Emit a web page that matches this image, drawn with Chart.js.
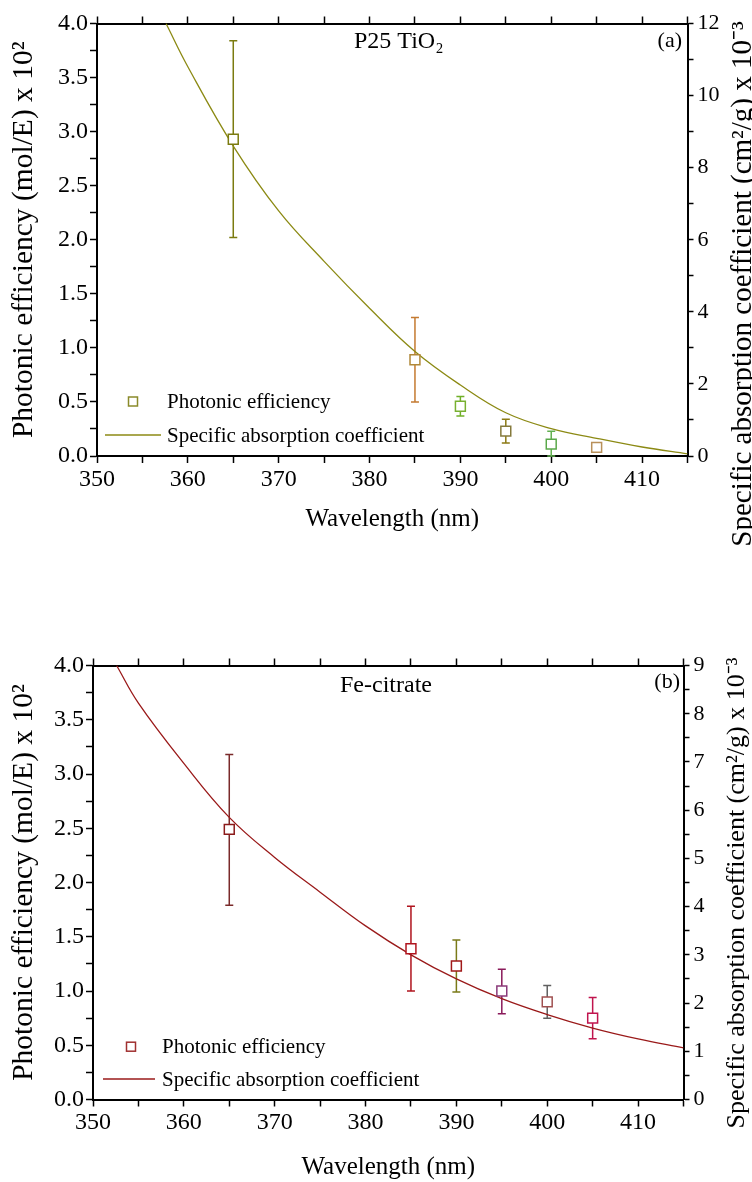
<!DOCTYPE html>
<html>
<head>
<meta charset="utf-8">
<script src="https://cdn.jsdelivr.net/npm/chart.js@4"></script>
<style>
  body { margin: 0; background: #fff; }
  canvas { position: absolute; left: 0; }
  #chartA { top: 0; }
  #chartB { top: 600px; }
</style>
</head>
<body>
<canvas id="chartA" width="752" height="560"></canvas>
<canvas id="chartB" width="752" height="582"></canvas>
<script>
// measured wavelengths (nm)
const wavelengths = [365, 385, 390, 395, 400, 405];

// (a) P25 TiO2: photonic efficiency x 10^2 with error bar ends
const effTiO2 = [2.93, 0.89, 0.46, 0.23, 0.11, 0.08];
const effTiO2Low = [2.02, 0.50, 0.37, 0.12, 0.00, null];
const effTiO2High = [3.84, 1.28, 0.55, 0.34, 0.23, null];

// (a) specific absorption coefficient x 10^-3 (cm2/g)
const absTiO2Wl = [357.6, 360, 365, 370, 375, 380, 385, 390, 395, 400, 405, 410, 415];
const absTiO2 = [12.0, 10.8, 8.6, 6.8, 5.4, 4.1, 2.9, 1.97, 1.2, 0.76, 0.49, 0.25, 0.06];

// (b) Fe-citrate: photonic efficiency x 10^2 with error bar ends
const effFe = [2.49, 1.39, 1.23, 1.00, 0.90, 0.75];
const effFeLow = [1.79, 1.00, 0.99, 0.79, 0.75, 0.56];
const effFeHigh = [3.18, 1.78, 1.47, 1.20, 1.05, 0.94];

// (b) specific absorption coefficient x 10^-3 (cm2/g)
const absFeWl = [352.6, 355, 360, 365, 370, 375, 380, 385, 390, 395, 400, 405, 410, 415];
const absFe = [9.0, 8.22, 6.97, 5.85, 5.02, 4.3, 3.6, 3.0, 2.5, 2.09, 1.76, 1.48, 1.255, 1.07];

const serif = 'Liberation Serif, Times New Roman, serif';

// error bars drawn from the scales, under the markers
const errorBars = {
  id: 'errorBars',
  beforeDatasetsDraw(chart, args, opts) {
    const xs = chart.scales.x, ys = chart.scales.y;
    const ctx = chart.ctx;
    ctx.save();
    ctx.lineWidth = 1.5;
    opts.low.forEach((lo, i) => {
      const hi = opts.high[i];
      if (lo === null || hi === null) return;
      const px = xs.getPixelForValue(opts.x[i]);
      const top = ys.getPixelForValue(hi);
      const bot = ys.getPixelForValue(lo);
      ctx.strokeStyle = opts.colors[i];
      ctx.beginPath();
      ctx.moveTo(px, top); ctx.lineTo(px, bot);
      ctx.moveTo(px - 4, top); ctx.lineTo(px + 4, top);
      ctx.moveTo(px - 4, bot); ctx.lineTo(px + 4, bot);
      ctx.stroke();
    });
    ctx.restore();
  }
};

// panel labels, legend and the right axis title
const extras = {
  id: 'extras',
  afterDraw(chart, args, o) {
    const ctx = chart.ctx;
    ctx.save();
    ctx.fillStyle = '#000';
    ctx.font = '24px ' + serif;
    ctx.textBaseline = 'alphabetic';
    ctx.textAlign = 'left';
    ctx.fillText(o.name, o.nameX, o.nameY);
    ctx.font = '22px ' + serif;
    ctx.textAlign = 'right';
    ctx.fillText(o.tag, o.tagX, o.tagY);

    // legend
    ctx.font = '21px ' + serif;
    ctx.textAlign = 'left';
    ctx.textBaseline = 'middle';
    ctx.strokeStyle = o.legendSquare;
    ctx.lineWidth = 1.5;
    ctx.strokeRect(o.legX - 4.5, o.legY1 - 4.5, 9, 9);
    ctx.fillText(chart.data.datasets[0].label, o.legTextX, o.legY1 + 1);
    ctx.strokeStyle = chart.data.datasets[1].borderColor;
    ctx.beginPath();
    ctx.moveTo(o.lineX0, o.legY2); ctx.lineTo(o.lineX1, o.legY2);
    ctx.stroke();
    ctx.fillText(chart.data.datasets[1].label, o.legTextX, o.legY2 + 1);

    // right axis title, reading bottom to top
    ctx.translate(o.rTitleX, o.rTitleY);
    ctx.rotate(-Math.PI / 2);
    ctx.textAlign = 'center';
    ctx.font = o.rTitleSize + 'px ' + serif;
    ctx.fillText('Specific absorption coefficient (cm\u00B2/g) x 10\u207B\u00B3', 0, 0);
    ctx.restore();
  }
};

function makeChart(id, p) {
  const tickFont = { family: serif, size: 24 };
  const gridCfg = { drawOnChartArea: false, tickLength: 7, tickColor: '#000', tickWidth: 1.5 };
  const borderCfg = { color: '#000', width: 2 };
  return new Chart(document.getElementById(id), {
    type: 'scatter',
    data: {
      datasets: [
        {
          label: 'Photonic efficiency',
          data: wavelengths.map((w, i) => ({ x: w, y: p.eff[i] })),
          yAxisID: 'y',
          pointStyle: 'rect',
          pointRadius: 7,
          pointBorderWidth: 1.5,
          pointBackgroundColor: '#fff',
          pointBorderColor: p.squareColors,
          showLine: false,
          order: 0
        },
        {
          label: 'Specific absorption coefficient',
          data: p.absWl.map((w, i) => ({ x: w, y: p.abs[i] })),
          yAxisID: 'y2',
          showLine: true,
          borderColor: p.curveColor,
          borderWidth: 1.3,
          pointRadius: 0,
          tension: 0.4,
          order: 1
        }
      ]
    },
    options: {
      responsive: false,
      animation: false,
      events: [],
      layout: { padding: 0 },
      plugins: {
        legend: { display: false },
        tooltip: { enabled: false },
        errorBars: { x: wavelengths, low: p.low, high: p.high, colors: p.errColors },
        extras: p.extras
      },
      scales: {
        x: {
          type: 'linear', position: 'bottom', min: 350, max: 415,
          ticks: {
            stepSize: 5, autoSkip: false, maxRotation: 0, padding: 2,
            color: '#000', font: tickFont,
            callback: v => (v % 10 === 0 ? String(v) : '')
          },
          grid: gridCfg,
          border: borderCfg,
          title: {
            display: true, text: 'Wavelength (nm)', color: '#000',
            font: { family: serif, size: 25 }, padding: { top: 0, bottom: p.xTitlePad }
          },
          afterFit: s => { s.height = p.bottomH; }
        },
        xTop: {
          type: 'linear', position: 'top', min: 350, max: 415,
          ticks: { stepSize: 5, autoSkip: false, display: false },
          grid: gridCfg,
          border: borderCfg,
          afterFit: s => { s.height = p.topH; }
        },
        y: {
          position: 'left', min: 0, max: 4,
          ticks: {
            stepSize: 0.25, autoSkip: false, padding: 2,
            color: '#000', font: tickFont,
            callback: v => (Math.round(v * 100) % 50 === 0 ? v.toFixed(1) : '')
          },
          grid: gridCfg,
          border: borderCfg,
          title: {
            display: true, text: 'Photonic efficiency (mol/E) x 10\u00B2', color: '#000',
            font: { family: serif, size: 29.5 }, padding: { top: 7, bottom: 0 }
          },
          afterFit: s => { s.width = p.leftW; }
        },
        y2: {
          position: 'right', min: 0, max: p.rMax,
          ticks: {
            stepSize: p.rMinor, autoSkip: false, padding: 4,
            color: '#000', font: { family: serif, size: 22 },
            callback: v => (Math.round(v * 10) % Math.round(p.rMajor * 10) === 0 ? String(v) : '')
          },
          grid: Object.assign({}, gridCfg, { tickLength: 6 }),
          border: borderCfg,
          afterFit: s => { s.width = p.rightW; }
        }
      }
    },
    plugins: [errorBars, extras]
  });
}

makeChart('chartA', {
  eff: effTiO2, low: effTiO2Low, high: effTiO2High,
  absWl: absTiO2Wl, abs: absTiO2,
  squareColors: ['#7b7b10', '#b08838', '#78b030', '#857a3c', '#5aa84a', '#b8905a'],
  errColors: ['#7b7b10', '#c47a30', '#70b028', '#8c7a14', '#62b050', '#b8905a'],
  curveColor: '#8c8a14',
  rMax: 12, rMinor: 1, rMajor: 2,
  leftW: 97, rightW: 64.5, topH: 23.5, bottomH: 104, xTitlePad: 26,
  extras: {
    name: 'P25 TiO\u2082', nameX: 354, nameY: 48,
    tag: '(a)', tagX: 682, tagY: 47,
    legendSquare: '#8a8a2a', legX: 133, legY1: 401.5, legY2: 435,
    lineX0: 105, lineX1: 161, legTextX: 167,
    rTitleX: 743, rTitleY: 284, rTitleSize: 29
  }
});

makeChart('chartB', {
  eff: effFe, low: effFeLow, high: effFeHigh,
  absWl: absFeWl, abs: absFe,
  squareColors: ['#8b1a1a', '#b0141e', '#a01818', '#8a3a7a', '#a05050', '#c0144e'],
  errColors: ['#7a2a2a', '#b0141e', '#7a7a18', '#8a1a5a', '#606060', '#c0144e'],
  curveColor: '#9a1a1a',
  rMax: 9, rMinor: 0.5, rMajor: 1,
  leftW: 93, rightW: 68.5, topH: 65.5, bottomH: 82.5, xTitlePad: 0,
  extras: {
    name: 'Fe-citrate', nameX: 340, nameY: 92,
    tag: '(b)', tagX: 680, tagY: 88,
    legendSquare: '#a03030', legX: 131, legY1: 446.7, legY2: 479,
    lineX0: 103, lineX1: 155, legTextX: 162,
    rTitleX: 737, rTitleY: 293, rTitleSize: 26
  }
});
</script>
</body>
</html>
